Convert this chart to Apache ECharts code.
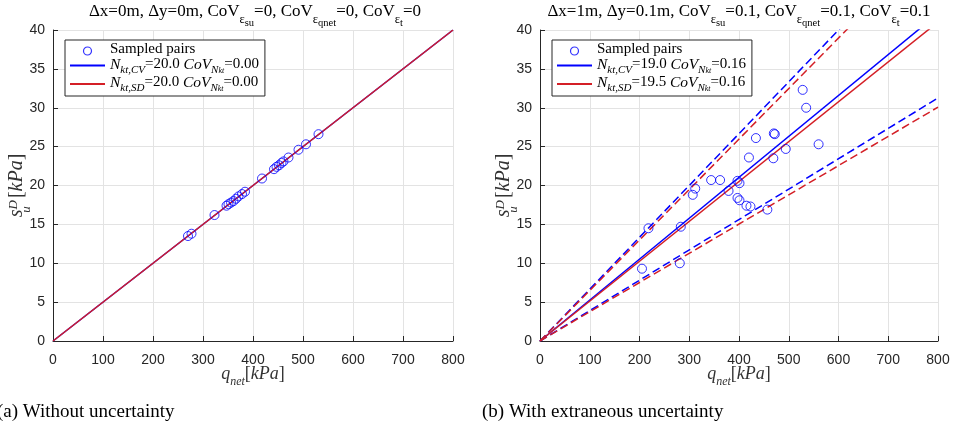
<!DOCTYPE html>
<html>
<head>
<meta charset="utf-8">
<script src="https://cdn.jsdelivr.net/npm/echarts@6/dist/echarts.min.js"></script>
<style>html,body{margin:0;padding:0;background:#fff}#c{width:957px;height:425px}</style>
</head>
<body>
<div id="c"></div>
<script>
// ---------- data ----------
const xTicks = [0, 100, 200, 300, 400, 500, 600, 700, 800];
const yTicks = [0, 5, 10, 15, 20, 25, 30, 35, 40];

// (a) without uncertainty
const qA = [270, 277, 323, 347, 351, 356, 361, 366, 371, 378, 384, 418, 442, 447, 452, 457, 461, 471, 491, 506, 531];
const sA = [13.5, 13.8, 16.2, 17.4, 17.6, 17.8, 18.0, 18.3, 18.6, 18.9, 19.2, 20.9, 22.1, 22.4, 22.6, 22.9, 23.1, 23.6, 24.6, 25.3, 26.6];
const NA_cv = 20.0, NA_sd = 20.0;

// (b) with extraneous uncertainty
const qB = [528, 535, 434, 470, 472, 560, 494, 420, 469, 344, 362, 312, 307, 379, 397, 401, 397, 401, 415, 423, 457, 218, 283, 281, 205];
const sB = [32.3, 30.0, 26.1, 26.7, 26.6, 25.3, 24.7, 23.6, 23.5, 20.7, 20.7, 19.6, 18.8, 19.3, 20.6, 20.3, 18.4, 18.1, 17.4, 17.3, 16.9, 14.5, 14.7, 10.0, 9.3];
const NB_cv = 19.0, NB_sd = 19.5;
const NB_cv_band = [15.0, 25.6];
const NB_sd_band = [15.4, 26.6];
const covA = 0.00, covB = 0.16;

// ---------- helpers ----------
const BLUE = '#0000ff', RED = '#d41f26', AX = '#262626';
const SERIF = 'Liberation Serif', SANS = 'Liberation Sans';
const xMax = xTicks[xTicks.length - 1];
function pairs(q, s) { return q.map((v, i) => [v, s[i]]); }
function ray(N) { return [[0, 0], [xMax, xMax / N]]; }

const legendRich = {
  r: {fontFamily: SERIF, fontSize: 15, color: '#000', lineHeight: 18, verticalAlign: 'top'},
  i: {fontFamily: SERIF, fontStyle: 'italic', fontSize: 15.5, color: '#000', lineHeight: 18, verticalAlign: 'top'},
  s: {fontFamily: SERIF, fontStyle: 'italic', fontSize: 11, color: '#000', lineHeight: 10, padding: [8, 0, 0, 0], verticalAlign: 'top'},
  ss: {fontFamily: SERIF, fontStyle: 'italic', fontSize: 8, color: '#000', lineHeight: 8, padding: [10, 0, 0, 0], verticalAlign: 'top'}
};
function nLabel(sub, N, cov) {
  return '{i|N}{s|' + sub + '}{r|=' + N.toFixed(1) + ' }{i|CoV}{s|N}{ss|kt}{r|=' + cov.toFixed(2) + '}';
}
const labels = {
  'Sampled pairs (a)': '{r|Sampled pairs}',
  'N_kt,CV (a)': nLabel('kt,CV', NA_cv, covA),
  'N_kt,SD (a)': nLabel('kt,SD', NA_sd, covA),
  'Sampled pairs (b)': '{r|Sampled pairs}',
  'N_kt,CV (b)': nLabel('kt,CV', NB_cv, covB),
  'N_kt,SD (b)': nLabel('kt,SD', NB_sd, covB)
};

const titleRich = {
  n: {fontFamily: SERIF, fontSize: 17, color: '#000', lineHeight: 20, verticalAlign: 'top'},
  e: {fontFamily: SERIF, fontSize: 12.5, color: '#000', lineHeight: 12, padding: [10, 0, 0, 0], verticalAlign: 'top'},
  t: {fontFamily: SERIF, fontSize: 10.5, color: '#000', lineHeight: 10, padding: [15, 0, 0, 0], verticalAlign: 'top'}
};
function titleText(dx, dy, c) {
  return '{n|Δx=' + dx + 'm, Δy=' + dy + 'm, CoV}{e|ε}{t|su}{n|=' + c + ', CoV}{e|ε}{t|qnet}{n|=' + c + ', CoV}{e|ε}{t|t}{n|=' + c + '}';
}

const axisNameRich = {
  i: {fontFamily: SERIF, fontStyle: 'italic', fontSize: 18, color: '#333', lineHeight: 22, verticalAlign: 'top'},
  b: {fontFamily: SERIF, fontSize: 18, color: '#333', lineHeight: 22, verticalAlign: 'top'},
  u: {fontFamily: SERIF, fontStyle: 'italic', fontSize: 12, color: '#333', lineHeight: 12, width: 0, padding: [12, 0, 0, 0], verticalAlign: 'top'},
  d: {fontFamily: SERIF, fontStyle: 'italic', fontSize: 12, color: '#333', lineHeight: 12, padding: [0, 1, 0, 0], verticalAlign: 'top'},
  n: {fontFamily: SERIF, fontStyle: 'italic', fontSize: 12, color: '#333', lineHeight: 12, padding: [11, 0, 0, 0], verticalAlign: 'top'}
};
const yNameRich = {
  i: Object.assign({}, axisNameRich.i, {fontSize: 20, lineHeight: 24}),
  b: Object.assign({}, axisNameRich.b, {fontSize: 20, lineHeight: 24}),
  u: Object.assign({}, axisNameRich.u, {fontSize: 13, lineHeight: 13, padding: [13, 0, 0, 0]}),
  d: Object.assign({}, axisNameRich.d, {fontSize: 13, lineHeight: 13, padding: [0, 2, 0, 0]})
};

function xAxis(gi) {
  return {
    gridIndex: gi, type: 'value', min: xTicks[0], max: xMax, interval: xTicks[1] - xTicks[0],
    name: '{i|q}{n|net}{b|[}{i|kPa}{b|]}', nameLocation: 'middle', nameGap: 24,
    nameMoveOverlap: false,
    nameTextStyle: {rich: axisNameRich},
    axisLine: {show: true, lineStyle: {color: AX, width: 1}},
    axisTick: {show: true, inside: true, length: 5, lineStyle: {color: AX}},
    axisLabel: {fontFamily: SANS, fontSize: 14, color: AX, margin: 12},
    splitLine: {show: true, lineStyle: {color: '#e3e3e3', width: 1}}
  };
}
function yAxis(gi) {
  return {
    gridIndex: gi, type: 'value', min: yTicks[0], max: yTicks[yTicks.length - 1], interval: yTicks[1] - yTicks[0],
    name: '{i|s}{u|u}{d|D}{b|[}{i|kPa}{b|]}', nameLocation: 'middle', nameGap: 22, nameRotate: 90,
    nameMoveOverlap: false,
    nameTextStyle: {rich: yNameRich},
    axisLine: {show: true, lineStyle: {color: AX, width: 1}},
    axisTick: {show: true, inside: true, length: 5, lineStyle: {color: AX}},
    axisLabel: {fontFamily: SANS, fontSize: 14, color: AX, margin: 8},
    splitLine: {show: true, lineStyle: {color: '#e3e3e3', width: 1}}
  };
}
function legend(left, suffix) {
  const hide = {opacity: 0, color: 'rgba(0,0,0,0)', borderColor: 'rgba(0,0,0,0)'};
  return {
    left: left, top: 40, orient: 'vertical',
    data: [
      {name: 'Sampled pairs' + suffix, itemStyle: {color: 'rgba(255,255,255,0)', borderColor: BLUE, borderWidth: 1.2}},
      {name: 'N_kt,CV' + suffix, itemStyle: hide},
      {name: 'N_kt,SD' + suffix, itemStyle: hide}
    ],
    itemWidth: 35, itemHeight: 8, itemGap: -0.5,
    padding: [2, 6, 2, 4],
    backgroundColor: '#fff', borderColor: AX, borderWidth: 1, borderRadius: 0,
    formatter: name => labels[name],
    textStyle: {rich: legendRich},
    selectedMode: false
  };
}
function scatter(name, gi, data) {
  return {
    name: name, type: 'scatter', xAxisIndex: gi, yAxisIndex: gi, data: data,
    symbol: 'circle', symbolSize: 9,
    itemStyle: {color: 'rgba(255,255,255,0)', borderColor: BLUE, borderWidth: 1}, z: 3
  };
}
function line(name, gi, N, color, dashed) {
  return {
    name: name, type: 'line', xAxisIndex: gi, yAxisIndex: gi, data: ray(N),
    symbol: 'none', showSymbol: false, clip: true,
    lineStyle: {color: color, width: 1.5, type: dashed ? [8, 4] : 'solid'},
    itemStyle: {color: color}, z: 2, silent: true
  };
}

const chart = echarts.init(document.getElementById('c'), null, {renderer: 'canvas'});
chart.setOption({
  animation: false,
  backgroundColor: '#fff',
  grid: [
    {left: 53, right: 504, top: 30, bottom: 84, containLabel: false},
    {left: 540, right: 19, top: 30, bottom: 84, containLabel: false}
  ],
  xAxis: [xAxis(0), xAxis(1)],
  yAxis: [yAxis(0), yAxis(1)],
  legend: [legend(65, ' (a)'), legend(552, ' (b)')],
  series: [
    scatter('Sampled pairs (a)', 0, pairs(qA, sA)),
    line('N_kt,CV (a)', 0, NA_cv, BLUE, false),
    line('N_kt,SD (a)', 0, NA_sd, RED, false),
    scatter('Sampled pairs (b)', 1, pairs(qB, sB)),
    line('N_kt,CV (b)', 1, NB_cv, BLUE, false),
    line('N_kt,SD (b)', 1, NB_sd, RED, false),
    line('CV lower (b)', 1, NB_cv_band[0], BLUE, true),
    line('CV upper (b)', 1, NB_cv_band[1], BLUE, true),
    line('SD lower (b)', 1, NB_sd_band[0], RED, true),
    line('SD upper (b)', 1, NB_sd_band[1], RED, true)
  ],
  graphic: [
    {type: 'text', x: 255, y: 3, style: {text: titleText('0', '0', '0'), rich: titleRich, align: 'center'}},
    {type: 'text', x: 739, y: 3, style: {text: titleText('1', '0.1', '0.1'), rich: titleRich, align: 'center'}},
    {type: 'text', x: -3, y: 403, style: {text: '(a) Without uncertainty', fontFamily: SERIF, fontSize: 19, fill: '#000'}},
    {type: 'text', x: 482, y: 403, style: {text: '(b) With extraneous uncertainty', fontFamily: SERIF, fontSize: 19, fill: '#000'}}
  ]
});
</script>
</body>
</html>
